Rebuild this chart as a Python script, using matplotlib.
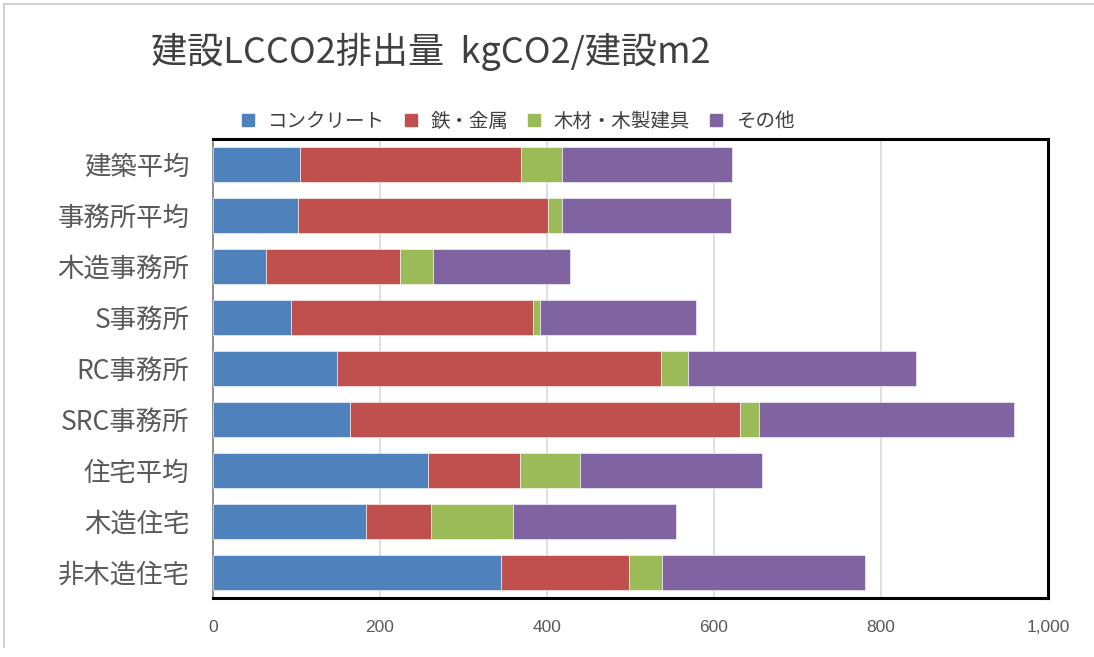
import matplotlib.pyplot as plt
from matplotlib.lines import Line2D
from matplotlib.ticker import FuncFormatter

plt.rcParams['font.family'] = ['Noto Sans CJK JP', 'DejaVu Sans']

# ——— データ (kgCO2/建設m2) ———
categories = ['建築平均', '事務所平均', '木造事務所', 'S事務所', 'RC事務所',
              'SRC事務所', '住宅平均', '木造住宅', '非木造住宅']
concrete = [104, 102, 64, 94, 149, 164, 257, 183, 345]
steel    = [265, 299, 160, 289, 387, 467, 111, 78, 153]
timber   = [49, 17, 39, 9, 33, 23, 71, 98, 40]
other    = [204, 202, 164, 187, 273, 305, 218, 195, 243]

series_names = ['コンクリート', '鉄・金属', '木材・木製建具', 'その他']
colors = ['#4F81BD', '#C0504D', '#9BBB59', '#8064A2']
x_ticks = [0, 200, 400, 600, 800, 1000]

fig = plt.figure(figsize=(10.94, 6.57), dpi=100)
ax = fig.add_axes([0.1947, 0.0898, 0.7633, 0.6986])

y = list(range(len(categories)))
left = [0] * len(categories)
for vals, col, name in zip([concrete, steel, timber, other], colors, series_names):
    ax.barh(y, vals, left=left, height=0.68, color=col, label=name,
            edgecolor='white', linewidth=0.4, zorder=3)
    left = [l + v for l, v in zip(left, vals)]

ax.set_ylim(len(categories) - 0.5, -0.5)
ax.set_xlim(0, 1000)
ax.set_yticks(y)
ax.set_yticklabels(categories, fontsize=19, color='#595959')
ax.set_xticks(x_ticks)
ax.xaxis.set_major_formatter(FuncFormatter(lambda v, p: f'{int(v):,}'))
ax.tick_params(axis='x', length=0, pad=16, labelsize=12.5, labelcolor='#595959')
ax.tick_params(axis='y', length=0, pad=17)
for lbl in ax.get_xticklabels():
    lbl.set_family(['Liberation Sans', 'DejaVu Sans'])
ax.grid(axis='x', color='#D9D9D9', linewidth=1.2, zorder=0)

# 枠線: 上・右・下は黒太線、左は細いグレー
for side in ['top', 'right', 'bottom']:
    ax.spines[side].set_color('black')
    ax.spines[side].set_linewidth(2.2)
ax.spines['left'].set_color('#7F7F7F')
ax.spines['left'].set_linewidth(1.2)

# 凡例
handles = [Line2D([], [], marker='s', linestyle='none', markersize=8,
                  markerfacecolor=c, markeredgecolor=c) for c in colors]
fig.legend(handles, series_names, loc='center', bbox_to_anchor=(0.4676, 0.815),
           ncol=4, frameon=False, fontsize=14, handletextpad=0.0,
           columnspacing=0.35, labelcolor='#404040')

fig.text(0.138, 0.921, '建設LCCO2排出量  kgCO2/建設m2', fontsize=26,
         color='#404040', va='center', ha='left')

# 外枠 (薄いグレー)
fig.add_artist(Line2D([0.004, 1.0], [0.994, 0.994], color='#D0D0D0', lw=1.5,
                      transform=fig.transFigure))
fig.add_artist(Line2D([0.004, 0.004], [0.015, 0.994], color='#D0D0D0', lw=1.5,
                      transform=fig.transFigure))

fig.savefig('out.png', dpi=100)
